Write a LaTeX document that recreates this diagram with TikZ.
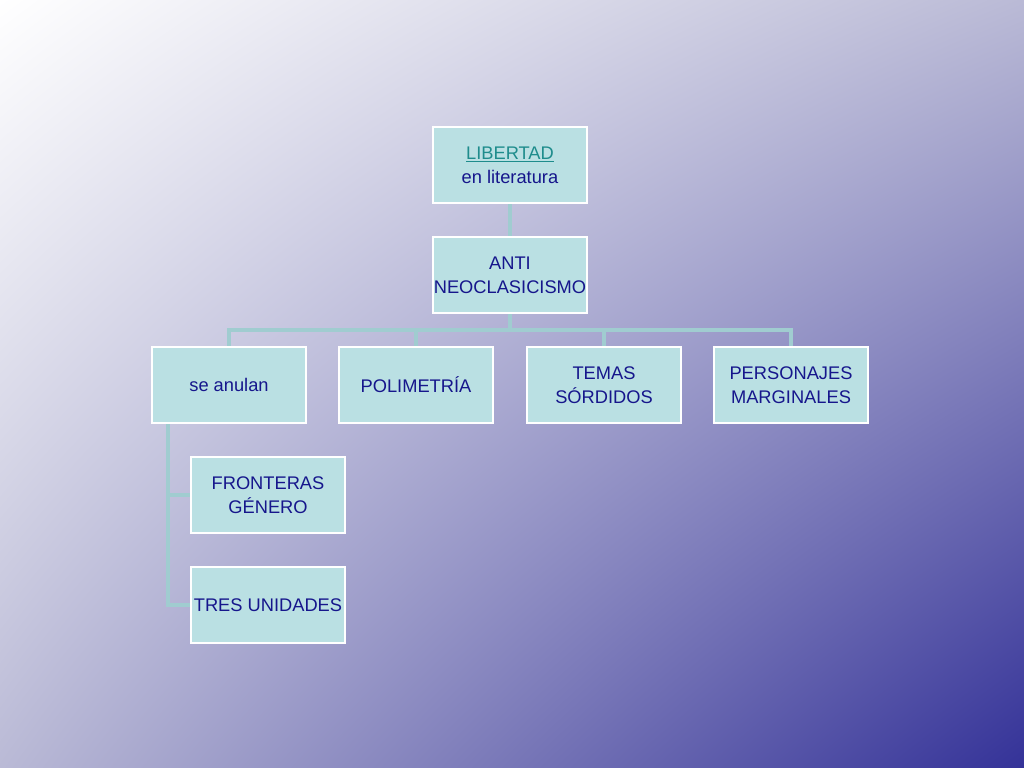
\documentclass[tikz,border=0pt]{standalone}
\usepackage{fontspec}
\setmainfont{Liberation Sans}
\usetikzlibrary{shadings,backgrounds}
\definecolor{boxfill}{RGB}{186,224,227}
\definecolor{inkblue}{RGB}{22,22,140}
\definecolor{tealink}{RGB}{30,140,140}
\definecolor{linkline}{RGB}{160,204,208}
\definecolor{bgmid}{RGB}{186,186,214}
\definecolor{bgdark}{RGB}{52,50,152}
\tikzset{
  topicbox/.style={draw=white, line width=2pt, fill=boxfill, text=inkblue,
    minimum width=3.85cm, minimum height=1.9cm, inner xsep=0.5pt, align=center,
    font=\fontsize{13}{17}\selectfont},
  linkline/.style={draw=linkline, line width=2.2pt}
}
\begin{document}
\begin{tikzpicture}[x=0.025cm, y=-0.025cm]
			%%%%% BACKGROUND %%%%%
			\useasboundingbox (0,0) rectangle (1024,768);
			\begin{scope}[on background layer]
			\shade[upper left=white, upper right=bgmid, lower left=bgmid, lower right=bgdark] (0,0) rectangle (1024,768);
			\end{scope}
			
			\coordinate (bus) at (510,330);
			\coordinate (trunk) at (168,424);
			
			%%%%% BOXES %%%%%
			\node[topicbox] (libertad) at (510,165) {\textcolor{tealink}{\underline{LIBERTAD}}\\en literatura};
			\node[topicbox] (anti) at (510,275) {ANTI\\NEOCLASICISMO};
			\node[topicbox] (anulan) at (229,385) {se anulan};
			\node[topicbox] (polimetria) at (416,385) {POLIMETRÍA};
			\node[topicbox] (temas) at (604,385) {TEMAS\\SÓRDIDOS};
			\node[topicbox] (personajes) at (791,385) {PERSONAJES\\MARGINALES};
			\node[topicbox] (fronteras) at (268,495) {FRONTERAS\\GÉNERO};
			\node[topicbox] (tres) at (268,605) {TRES UNIDADES};
			
			%%%%% CONNECTORS %%%%%
			\begin{scope}[on background layer]
			\draw[linkline] (libertad.south) -- (anti.north);
			\draw[linkline] (anti.south) -- (bus) -| (anulan.north);
			\draw[linkline] (bus) -| (polimetria.north);
			\draw[linkline] (bus) -| (temas.north);
			\draw[linkline] (bus) -| (personajes.north);
			\draw[linkline] (trunk) |- (fronteras.west);
			\draw[linkline] (trunk) |- (tres.west);
			\end{scope}
			
		\end{tikzpicture}
\end{document}
